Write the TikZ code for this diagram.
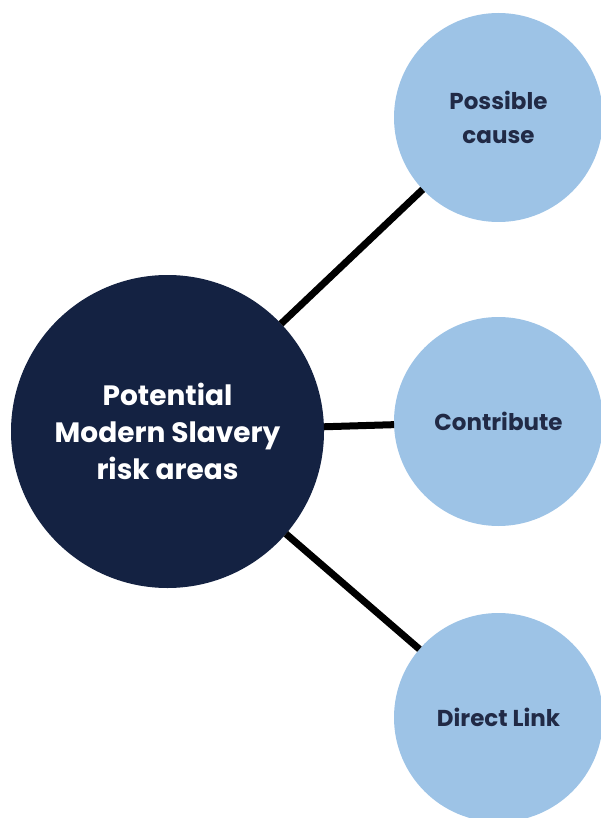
\documentclass[tikz,border=0pt]{standalone}
\usepackage{fontspec}
\setmainfont{Poppins}
\usepackage{tikz}
\usetikzlibrary{positioning}
\definecolor{NavyColour}{RGB}{20,34,66}
\definecolor{lightblue}{RGB}{157,195,230}
\definecolor{inkblue}{RGB}{33,42,70}

\begin{document}
\begin{tikzpicture}[x=1pt, y=-1pt, font=\bfseries,
    hub/.style={circle, fill=NavyColour, minimum size=313pt, inner sep=0pt, outer sep=0pt,
      text=white, align=center, font=\bfseries\fontsize{28}{37}\selectfont},
    leaf/.style={circle, fill=lightblue, minimum size=209pt, inner sep=0pt, outer sep=0pt,
      text=inkblue, align=center, font=\bfseries\fontsize{23}{34}\selectfont},
    link/.style={line width=7pt, black}]
  \useasboundingbox (0,0) rectangle (601,818);

  \node[hub] (areas) at (167.5,431.5) {Potential\\Modern Slavery\\risk areas};
  \node[leaf] (cause) at (498.5,117.5) {Possible\\cause};
  \node[leaf] (contribute) at (498.5,421.5) {Contribute};
  \node[leaf] (direct) at (498.5,717.5) {Direct Link};

  \draw[link] (areas) -- (cause);
  \draw[link] (areas) -- (contribute);
  \draw[link] (areas) -- (direct);
\end{tikzpicture}
\end{document}
